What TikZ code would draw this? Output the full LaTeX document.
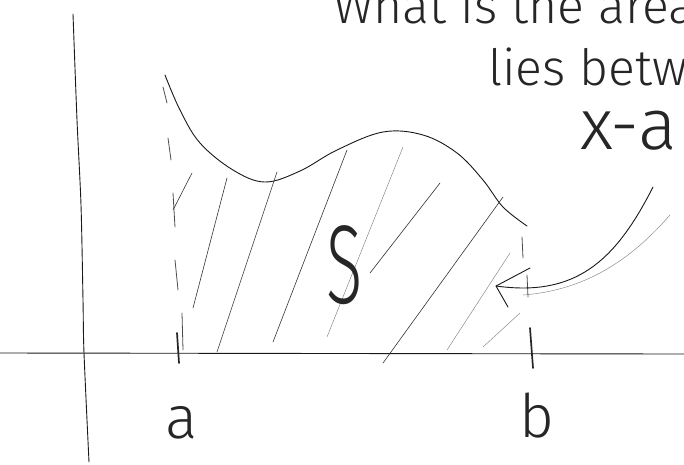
\documentclass[tikz,border=0pt]{standalone}
\usepackage{fontspec}
\setmainfont{Liberation Sans}
\newfontfamily\handfont{Fira Sans Light}
\begin{document}
\begin{tikzpicture}[x=1pt,y=-1pt,
  pen/.style={line width=0.9pt, line cap=round, line join=round, black!90},
  tickmark/.style={line width=1.7pt, line cap=round, black!85},
  dashseg/.style={line width=0.8pt, line cap=round, black!70},
  hatch/.style={line width=0.6pt, line cap=round, black!80},
  faint/.style={line width=0.5pt, line cap=round, black!45},
  hand/.style={inner sep=0pt, text=black!85, font=\handfont}]
\useasboundingbox (0,0) rectangle (684,464);
\clip (0,0) rectangle (684,464);

% axes
\draw[pen] (0,353) -- (684,354);
\draw[pen] plot[smooth, tension=0.5] coordinates {(73,14) (77,120) (81,205) (83,300) (84,353) (89,462)};

% curve y = f(x)
\draw[pen] plot[smooth, tension=0.6] coordinates {(165,75) (180,110) (200,143) (233,170) (265,182) (300,171) (337,150) (383,132) (423,135) (457,153) (483,180) (503,207) (527,226)};

% dashed boundary x = a
\draw[dashseg] (163,87) -- (167,103);
\draw[dashseg] (168,138) -- (171,160);
\draw[dashseg] (173,193) -- (175,227);
\draw[dashseg] (175,260) -- (178,290);
\draw[dashseg] (182,313) -- (183,350);
% dashed boundary x = b
\draw[dashseg] (522,237) -- (523,258);
\draw[dashseg] (527,275) -- (528,297);

% ticks
\draw[tickmark] (177,333) -- (179,363);
\draw[tickmark] (530,328) -- (533,368);

% hatching
\draw[hatch] (173,210) -- (192,173);
\draw[hatch] (193,308) -- (227,178);
\draw[hatch] (217,352) -- (277,172);
\draw[hatch] (273,342) -- (347,150);
\draw[faint] (327,337) -- (403,147);
\draw[hatch] (370,273) -- (440,183);
\draw[hatch] (383,363) -- (503,197);
\draw[faint] (447,350) -- (510,253);
\draw[faint] (483,347) -- (520,313);

% label S
\node[hand] (S) at (345,265) {\scalebox{0.6}[1]{\fontsize{112}{120}\selectfont S}};

% arrow
\coordinate (arrowStart) at (653,187);
\coordinate (arrowTip) at (496,286);
\draw[pen] (arrowStart) .. controls (615,262) and (575,297) .. (arrowTip);
\draw[pen] (arrowTip) ++(34,-18) -- (arrowTip) -- ++(12,21);
\coordinate (ghostStart) at (670,215);
\coordinate (ghostEnd) at (523,295);
\draw[faint] (ghostStart) .. controls (635,255) and (590,290) .. (ghostEnd);

% axis labels
\node[hand, anchor=base] (la) at (182,438) {\fontsize{60}{66}\selectfont a};
\node[hand, anchor=base] (lb) at (537,437) {\fontsize{60}{66}\selectfont b};

% question text
\node[hand, anchor=base west] (q1) at (333,23) {\fontsize{50}{56}\selectfont What is the area};
\node[hand, anchor=base west] (q2) at (488,85) {\fontsize{50}{56}\selectfont lies between};
\node[hand, anchor=base west] (q3) at (580,149) {\fontsize{72}{78}\selectfont x-a};
\end{tikzpicture}
\end{document}
